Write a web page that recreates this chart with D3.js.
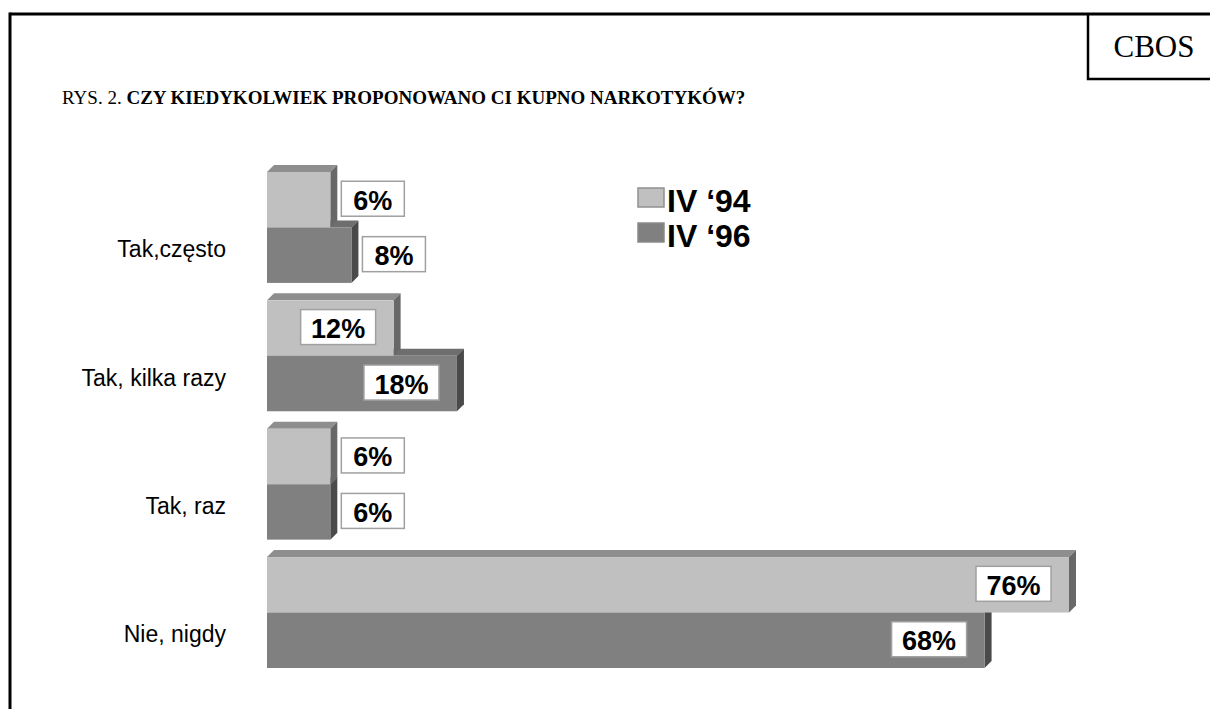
<!DOCTYPE html>
<html><head><meta charset="utf-8">
<script src="https://cdn.jsdelivr.net/npm/d3@7"></script>
<style>body{margin:0;background:#fff}svg{display:block}</style>
</head><body>
<script>
const categories = ["Tak,często", "Tak, kilka razy", "Tak, raz", "Nie, nigdy"];
const seriesNames = ["IV \u201894", "IV \u201896"];
const values94 = [6, 12, 6, 76];
const values96 = [8, 18, 6, 68];

const W = 1210, H = 709;
const svg = d3.select("body").append("svg").attr("width", W).attr("height", H);

// frame
svg.append("line").attr("x1", 10).attr("x2", W).attr("y1", 14).attr("y2", 14).attr("stroke", "#000").attr("stroke-width", 3);
svg.append("line").attr("x1", 10).attr("x2", 10).attr("y1", 12.5).attr("y2", H).attr("stroke", "#000").attr("stroke-width", 3);
svg.append("path").attr("d", "M1088,14 V79 H1212").attr("fill", "none").attr("stroke", "#000").attr("stroke-width", 2.5);
svg.append("text").attr("x", 1154).attr("y", 57).attr("text-anchor", "middle")
  .attr("font-family", "Liberation Serif, Times New Roman, serif").attr("font-size", 31).text("CBOS");

// title
const title = svg.append("text").attr("x", 62).attr("y", 104)
  .attr("font-family", "Liberation Serif, Times New Roman, serif").attr("font-size", 19);
title.append("tspan").text("RYS. 2. ");
title.append("tspan").attr("font-weight", "bold").text("CZY KIEDYKOLWIEK PROPONOWANO CI KUPNO NARKOTYKÓW?");

// scales
const x = d3.scaleLinear().domain([0, 76]).range([267, 1069]);
const y = d3.scaleBand().domain(categories).range([172, 668]).paddingInner(0.136).paddingOuter(0);
const sub = d3.scaleBand().domain(seriesNames).range([0, y.bandwidth()]);

const front = ["#c0c0c0", "#808080"];
const topC = ["#8e8e8e", "#6e6e6e"];
const sideC = ["#686868", "#4a4a4a"];
const d = 7;
const series = [values94, values96];

const g = svg.append("g");
// draw dark series first, then light
[1, 0].forEach(si => {
  categories.forEach((c, i) => {
    const v = series[si][i];
    const x0 = x(0), x1 = x(v);
    const y0 = y(c) + sub(seriesNames[si]), y1 = y0 + sub.bandwidth();
    g.append("polygon").attr("points", [[x0, y0], [x0 + d, y0 - d], [x1 + d, y0 - d], [x1, y0]].join(" ")).attr("fill", topC[si]);
    g.append("polygon").attr("points", [[x1, y0], [x1 + d, y0 - d], [x1 + d, y1 - d], [x1, y1]].join(" ")).attr("fill", sideC[si]);
    g.append("rect").attr("x", x0).attr("y", y0).attr("width", x1 - x0).attr("height", y1 - y0).attr("fill", front[si]);
  });
});

// value labels
[0, 1].forEach(si => {
  categories.forEach((c, i) => {
    const v = series[si][i];
    const label = v + "%";
    const bw = label.length > 2 ? 75 : 63, bh = 35;
    const cy = y(c) + sub(seriesNames[si]) + sub.bandwidth() / 2;
    const bx = v < 10 ? x(v) + 11 : x(v) - 18 - bw;
    g.append("rect").attr("x", bx).attr("y", cy - bh / 2 - 1).attr("width", bw).attr("height", bh)
      .attr("fill", "#fff").attr("stroke", "#a0a0a0").attr("stroke-width", 1.5);
    g.append("text").attr("x", bx + bw / 2).attr("y", cy + 10).attr("text-anchor", "middle")
      .attr("font-family", "Liberation Sans, Arial, sans-serif").attr("font-weight", "bold").attr("font-size", 27)
      .text(label);
  });
});

// category labels
svg.append("g").selectAll("text").data(categories).join("text")
  .attr("x", 226).attr("y", c => y(c) + y.bandwidth() * 0.77)
  .attr("text-anchor", "end").attr("font-family", "Liberation Sans, Arial, sans-serif").attr("font-size", 23)
  .text(c => c);

// legend
const leg = svg.append("g");
seriesNames.forEach((s, i) => {
  const by = 212 + i * 35;
  leg.append("rect").attr("x", 638).attr("y", by - 24).attr("width", 26).attr("height", 19)
    .attr("fill", front[i]).attr("stroke", i === 0 ? "#909090" : "#8a8a8a").attr("stroke-width", 1.5);
  leg.append("text").attr("x", 667).attr("y", by).attr("font-family", "Liberation Sans, Arial, sans-serif")
    .attr("font-weight", "bold").attr("font-size", 32).text(s);
});
</script>
</body></html>
